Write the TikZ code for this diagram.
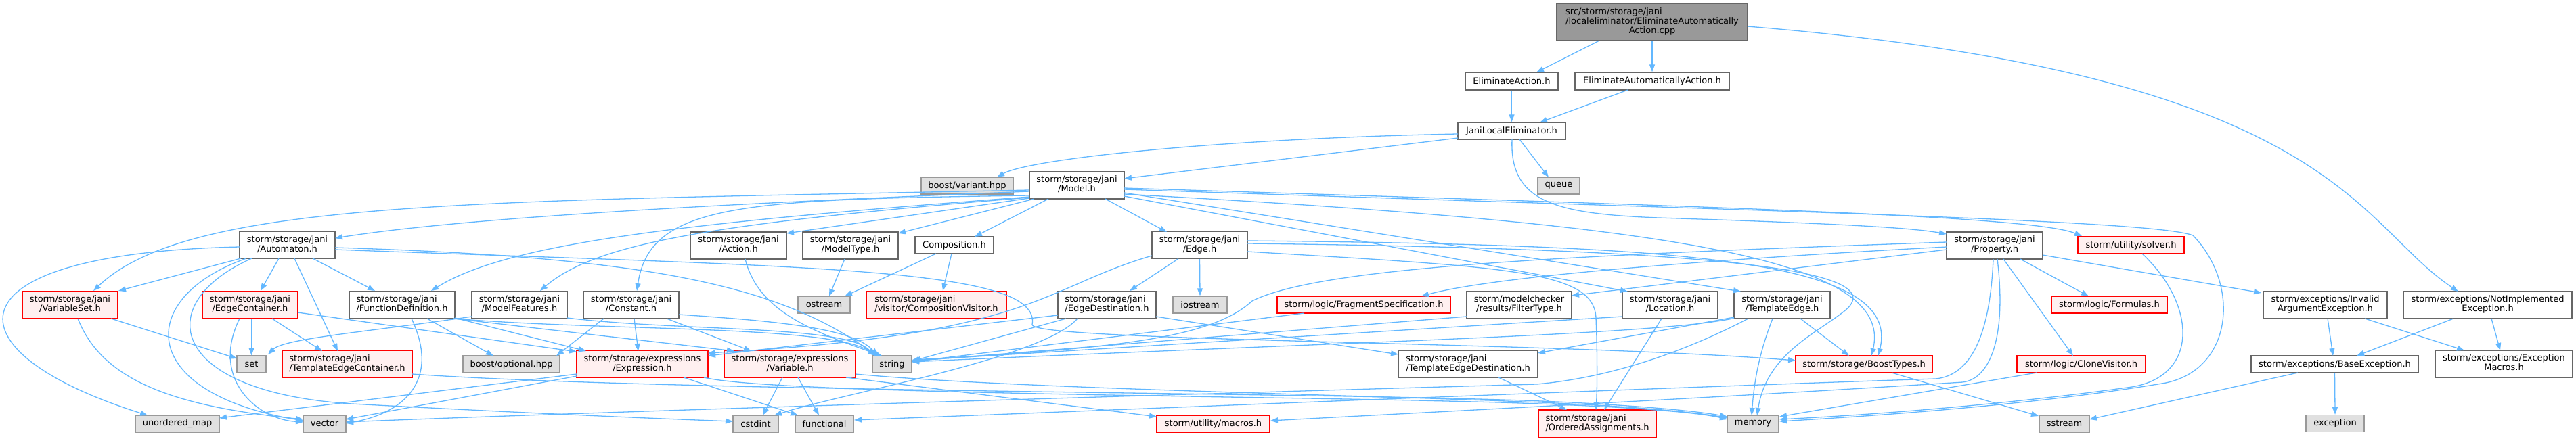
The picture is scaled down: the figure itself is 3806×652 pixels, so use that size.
\documentclass[tikz,border=0pt]{standalone}
\usepackage{fontspec}
\newfontfamily\dvs{DejaVu Sans}
\usetikzlibrary{arrows.meta,calc}
\definecolor{edgec}{HTML}{63B8FF}
\definecolor{bordc}{HTML}{666666}
\definecolor{grayf}{HTML}{E0E0E0}
\definecolor{grayb}{HTML}{999999}
\definecolor{redf}{HTML}{FFF0F0}
\definecolor{rootf}{HTML}{999999}
\newcommand\twol[2]{\begin{tabular}{@{}l@{}}#1\\\multicolumn{1}{@{}c@{}}{#2}\end{tabular}}
\newcommand\bx[7]{\node[#6, minimum width=#4pt, minimum height=#5pt] (#1) at (#2,#3) {#7};}
\begin{document}
\begin{tikzpicture}[x=1pt,y=-1pt,
  nd/.style={draw=bordc, fill=white, line width=1.3pt, inner sep=0pt, font={\dvs\fontsize{13}{14}\selectfont}},
  rd/.style={nd, draw=red, fill=redf},
  gd/.style={nd, draw=grayb, fill=grayf},
  rt/.style={nd, fill=rootf},
  lk/.style={draw=edgec, line width=1.3pt, line join=round, -{Triangle[length=11pt,width=8pt]}}]
\useasboundingbox (0,0) rectangle (3806,652);
\fill[white] (0,0) rectangle (3806,652);
% nodes
\bx{root}{2441}{32.5}{282}{55}{rt}{\begin{tabular}{@{}l@{}}src/storm/storage/jani\\/localeliminator/EliminateAutomatically\\\multicolumn{1}{@{}c@{}}{Action.cpp}\end{tabular}}
\bx{ea}{2233.5}{120}{137}{26}{nd}{EliminateAction.h}
\bx{eaa}{2441}{120}{228}{26}{nd}{EliminateAutomaticallyAction.h}
\bx{jle}{2233.5}{193.5}{159}{25}{nd}{JaniLocalEliminator.h}
\bx{var}{1429}{274.5}{136}{25}{gd}{boost/variant.hpp}
\bx{model}{1591}{274}{140}{40}{nd}{\twol{storm/storage/jani}{/Model.h}}
\bx{queue}{2303}{274.5}{62}{25}{gd}{queue}
\bx{prop}{2947}{363}{142}{40}{nd}{\twol{storm/storage/jani}{/Property.h}}
\bx{solver}{3148.5}{362.5}{157}{25}{rd}{storm/utility/solver.h}
\bx{nie}{3675.5}{451}{249}{40}{nd}{\twol{storm/exceptions/NotImplemented}{Exception.h}}
\bx{aut}{424.5}{362.5}{141}{40}{nd}{\twol{storm/storage/jani}{/Automaton.h}}
\bx{act}{1091}{363}{142}{40}{nd}{\twol{storm/storage/jani}{/Action.h}}
\bx{mt}{1256.5}{363}{141}{40}{nd}{\twol{storm/storage/jani}{/ModelType.h}}
\bx{comp}{1410}{362.5}{116}{25}{nd}{Composition.h}
\bx{edge}{1772.5}{362.5}{141}{40}{nd}{\twol{storm/storage/jani}{/Edge.h}}
\bx{vs}{103.5}{450.5}{141}{40}{rd}{\twol{storm/storage/jani}{/VariableSet.h}}
\bx{ec}{369.5}{450.5}{141}{40}{rd}{\twol{storm/storage/jani}{/EdgeContainer.h}}
\bx{fd}{594}{450.5}{156}{40}{nd}{\twol{storm/storage/jani}{/FunctionDefinition.h}}
\bx{mf}{767.5}{450.5}{141}{40}{nd}{\twol{storm/storage/jani}{/ModelFeatures.h}}
\bx{const}{932.5}{450.5}{141}{40}{nd}{\twol{storm/storage/jani}{/Constant.h}}
\bx{ostr}{1217.5}{450.5}{77}{25}{gd}{ostream}
\bx{cv}{1383.5}{450.5}{207}{40}{rd}{\twol{storm/storage/jani}{/visitor/CompositionVisitor.h}}
\bx{ed}{1635.5}{450.5}{145}{40}{nd}{\twol{storm/storage/jani}{/EdgeDestination.h}}
\bx{ios}{1773}{450.5}{80}{25}{gd}{iostream}
\bx{frag}{2015}{450.5}{256}{25}{rd}{storm/logic/FragmentSpecification.h}
\bx{ft}{2244.5}{450.5}{155}{40}{nd}{\twol{storm/modelchecker}{/results/FilterType.h}}
\bx{loc}{2467.5}{451}{141}{40}{nd}{\twol{storm/storage/jani}{/Location.h}}
\bx{te}{2633}{451}{142}{40}{nd}{\twol{storm/storage/jani}{/TemplateEdge.h}}
\bx{form}{3116.5}{450.5}{171}{25}{rd}{storm/logic/Formulas.h}
\bx{ia}{3435.5}{451}{183}{40}{nd}{\twol{storm/exceptions/Invalid}{ArgumentException.h}}
\bx{set}{371.5}{538.5}{43}{25}{gd}{set}
\bx{tec}{513}{538.5}{192}{40}{rd}{\twol{storm/storage/jani}{/TemplateEdgeContainer.h}}
\bx{opt}{755.5}{538.5}{143}{25}{gd}{boost/optional.hpp}
\bx{expr}{949}{538.5}{194}{40}{rd}{\twol{storm/storage/expressions}{/Expression.h}}
\bx{varb}{1167}{538.5}{194}{40}{rd}{\twol{storm/storage/expressions}{/Variable.h}}
\bx{str}{1318}{538.5}{58}{25}{gd}{string}
\bx{ted}{2169}{538.5}{206}{40}{nd}{\twol{storm/storage/jani}{/TemplateEdgeDestination.h}}
\bx{bt}{2754}{538.5}{202}{25}{rd}{storm/storage/BoostTypes.h}
\bx{clone}{3075}{538.5}{190}{25}{rd}{storm/logic/CloneVisitor.h}
\bx{base}{3449.5}{538.5}{247}{25}{nd}{storm/exceptions/BaseException.h}
\bx{em}{3699.5}{538}{203}{40}{nd}{\twol{storm/exceptions/Exception}{Macros.h}}
\bx{umap}{262}{626.5}{124}{25}{gd}{unordered\_map}
\bx{vec}{479.5}{626.5}{63}{25}{gd}{vector}
\bx{cstd}{1116.5}{626.5}{67}{25}{gd}{cstdint}
\bx{func}{1218}{626.5}{86}{25}{gd}{functional}
\bx{mac}{1792.5}{626.5}{167}{25}{rd}{storm/utility/macros.h}
\bx{oa}{2360}{626.5}{174}{41}{rd}{\twol{storm/storage/jani}{/OrderedAssignments.h}}
\bx{mem}{2590}{626.5}{76}{25}{gd}{memory}
\bx{sst}{3050}{626.5}{74}{25}{gd}{sstream}
\bx{exc}{3450}{626}{86}{25}{gd}{exception}
% top edges
\draw[lk] ($(root)+(-78,27.5)$) -- ($(ea)+(36.5,-13)$);
\draw[lk] (root.south) -- (eaa.north);
\draw[lk] ($(root)+(141,6.5)$) .. controls (3450,110) and (3480,330) .. ($(nie)+(-43.5,-20)$);
\draw[lk] (ea.south) -- (jle.north);
\draw[lk] ($(eaa)+(-36,13)$) -- ($(jle)+(41.5,-12.5)$);
\draw[lk] ($(jle)+(-79.5,4.5)$) .. controls (1800,205) and (1520,235) .. ($(var)+(44,-12.5)$);
\draw[lk] ($(jle)+(-79.5,10.5)$) -- ($(model)+(70,-10)$);
\draw[lk] ($(jle)+(11.5,12.5)$) -- ($(queue)+(-15,-12.5)$);
\draw[lk] ($(jle)+(0.5,12.5)$) .. controls (2230,300) and (2300,316) .. (2450,322) .. controls (2700,330) and (2820,336) .. ($(prop)+(-71,-17)$);
% Model
\draw[lk] ($(model)+(-70,9)$) .. controls (1100,300) and (700,320) .. ($(aut)+(70.5,-10.5)$);
\draw[lk] ($(model)+(-70,7)$) .. controls (700,298) and (280,295) .. ($(vs)+(34.5,-20.5)$);
\draw[lk] ($(model)+(-70,17)$) .. controls (1000,330) and (750,360) .. ($(fd)+(43,-20.5)$);
\draw[lk] ($(model)+(-70,18)$) .. controls (1050,330) and (880,360) .. ($(mf)+(30.5,-20.5)$);
\draw[lk] ($(model)+(-70,15)$) .. controls (1100,295) and (960,300) .. ($(const)+(8.5,-20.5)$);
\draw[lk] ($(model)+(-70,19)$) -- ($(act)+(71,-18)$);
\draw[lk] ($(model)+(-63,20)$) -- ($(mt)+(70.5,-18)$);
\draw[lk] ($(model)+(-42,20)$) -- ($(comp)+(30,-12.5)$);
\draw[lk] ($(model)+(42,20)$) -- ($(edge)+(-48.5,-19.5)$);
\draw[lk] ($(model)+(70,16)$) -- ($(loc)+(-62.5,-20)$);
\draw[lk] ($(model)+(70,11)$) -- ($(te)+(-61,-20)$);
\draw[lk] ($(model)+(70,4)$) .. controls (2500,305) and (3000,318) .. ($(solver)+(-72.5,-13.5)$);
\draw[lk] ($(model)+(70,6)$) .. controls (2600,312) and (3180,325) .. (3240,348) .. controls (3310,420) and (3300,545) .. (3200,566) .. controls (3000,600) and (2750,616) .. ($(mem)+(39,-3.5)$);
\draw[lk] ($(model)+(70,13)$) .. controls (2450,330) and (2800,380) .. ($(bt)+(11,-12.5)$);
% Edge
\draw[lk] ($(edge)+(-31.5,20)$) -- ($(ed)+(33.5,-20.5)$);
\draw[lk] (edge.south) -- (ios.north);
\draw[lk] ($(edge)+(70.5,9.5)$) .. controls (2230,395) and (2355,400) .. (2358,470) .. controls (2360,520) and (2360,570) .. ($(oa)+(-2,-20.5)$);
\draw[lk] ($(edge)+(70.5,-6.5)$) .. controls (2500,362) and (2810,385) .. ($(bt)+(21,-12.5)$);
\draw[lk] ($(edge)+(70.5,-2.5)$) .. controls (2550,368) and (2800,400) .. (2725,460) .. controls (2680,495) and (2610,525) .. ($(mem)+(6,-12.5)$);
\draw[lk] ($(edge)+(-70.5,15.5)$) .. controls (1540,425) and (1530,495) .. ($(expr)+(97,-16.5)$);
% EdgeDestination
\draw[lk] ($(ed)+(72.5,17.5)$) -- ($(ted)+(-103,-14.5)$);
\draw[lk] ($(ed)+(-72.5,15.5)$) -- ($(expr)+(97,-12.5)$);
\draw[lk] ($(ed)+(-43.5,20.5)$) .. controls (1540,530) and (1250,580) .. ($(cstd)+(27.5,-12.5)$);
\draw[lk] ($(ed)+(-60.5,20.5)$) -- ($(str)+(29,-4.5)$);
% Automaton
\draw[lk] ($(aut)+(-68.5,19.5)$) -- ($(vs)+(71.5,-20.5)$);
\draw[lk] ($(aut)+(-12.5,19.5)$) -- ($(ec)+(15.5,-20.5)$);
\draw[lk] ($(aut)+(10.5,19.5)$) -- ($(tec)+(-14,-19.5)$);
\draw[lk] ($(aut)+(37.5,19.5)$) -- ($(fd)+(-40,-20.5)$);
\draw[lk] ($(aut)+(-70.5,2.5)$) .. controls (-90,375) and (-80,520) .. ($(umap)+(-44,-12.5)$);
\draw[lk] ($(aut)+(-60.5,19.5)$) .. controls (200,440) and (200,580) .. ($(vec)+(-31.5,-4.5)$);
\draw[lk] ($(aut)+(-52.5,19.5)$) .. controls (220,450) and (250,580) .. (520,597) .. controls (800,612) and (1000,620) .. ($(cstd)+(-33.5,-3.5)$);
\draw[lk] ($(aut)+(70.5,3.5)$) .. controls (950,380) and (1150,420) .. ($(str)+(-23,-12.5)$);
\draw[lk] ($(aut)+(70.5,6.5)$) .. controls (1200,395) and (1540,395) .. (1525,480) .. controls (1525,505) and (2300,505) .. ($(bt)+(-101,-5.5)$);
% VariableSet
\draw[lk] ($(vs)+(60.5,20.5)$) -- ($(set)+(-21.5,-8.5)$);
\draw[lk] ($(vs)+(11.5,20.5)$) .. controls (150,560) and (250,600) .. ($(vec)+(-31.5,-6.5)$);
% EdgeContainer
\draw[lk] ($(ec)+(2,20.5)$) -- (set.north);
\draw[lk] ($(ec)+(32.5,20.5)$) -- ($(tec)+(-37,-19.5)$);
\draw[lk] ($(ec)+(-15.5,20.5)$) .. controls (310,560) and (380,620) .. ($(vec)+(-31.5,-2.5)$);
\draw[lk] ($(ec)+(70.5,11.5)$) -- ($(expr)+(-97,-18.5)$);
% FunctionDefinition
\draw[lk] ($(fd)+(37,20.5)$) -- ($(opt)+(-26.5,-12.5)$);
\draw[lk] ($(fd)+(14,20.5)$) .. controls (650,560) and (600,610) .. ($(vec)+(31.5,-0.5)$);
\draw[lk] ($(fd)+(78,19.5)$) -- ($(expr)+(-83,-19.5)$);
\draw[lk] ($(fd)+(76,20.5)$) -- ($(varb)+(-82,-19.5)$);
\draw[lk] ($(fd)+(76,20.5)$) .. controls (900,490) and (1230,480) .. ($(str)+(-24,-12.5)$);
% ModelFeatures
\draw[lk] ($(mf)+(-70.5,17.5)$) .. controls (550,490) and (420,500) .. ($(set)+(24.5,-14.5)$);
\draw[lk] ($(mf)+(70.5,19.5)$) .. controls (1000,490) and (1250,480) .. ($(str)+(-26,-12.5)$);
% Constant
\draw[lk] ($(const)+(-40.5,20.5)$) -- ($(opt)+(66.5,-12.5)$);
\draw[lk] ($(const)+(4.5,20.5)$) -- ($(expr)+(-6,-19.5)$);
\draw[lk] ($(const)+(52.5,20.5)$) -- ($(varb)+(-57,-19.5)$);
\draw[lk] ($(const)+(70.5,14.5)$) .. controls (1150,475) and (1260,485) .. ($(str)+(-21,-12.5)$);
% Action, ModelType, Composition
\draw[lk] ($(act)+(10,20)$) .. controls (1120,460) and (1200,490) .. ($(str)+(-15,-12.5)$);
\draw[lk] ($(mt)+(-8.5,20)$) -- ($(ostr)+(7.5,-12.5)$);
\draw[lk] ($(comp)+(-27,12.5)$) -- ($(ostr)+(30.5,-12.5)$);
\draw[lk] ($(comp)+(-4,12.5)$) -- ($(cv)+(9.5,-20.5)$);
% Property
\draw[lk] ($(prop)+(-71,2)$) .. controls (2500,385) and (2200,410) .. ($(frag)+(85,-12.5)$);
\draw[lk] ($(prop)+(-71,6)$) -- ($(ft)+(77.5,-13.5)$);
\draw[lk] ($(prop)+(38,20)$) -- ($(form)+(-30.5,-12.5)$);
\draw[lk] ($(prop)+(13,20)$) -- ($(clone)+(-12,-12.5)$);
\draw[lk] ($(prop)+(71,14)$) -- ($(ia)+(-94.5,-18)$);
\draw[lk] ($(prop)+(-2,20)$) .. controls (2940,500) and (2910,555) .. (2860,560) .. controls (2400,575) and (1600,608) .. ($(func)+(44,-5.5)$);
\draw[lk] ($(prop)+(4,20)$) .. controls (2965,500) and (2940,560) .. (2900,565) .. controls (2500,590) and (2100,610) .. ($(mac)+(84.5,-4.5)$);
\draw[lk] ($(prop)+(-71,-5)$) .. controls (2300,378) and (1950,395) .. (1850,445) .. controls (1790,500) and (1650,515) .. ($(str)+(30,-6.5)$);
% FilterType, FragmentSpecification
\draw[lk] ($(ft)+(-77.5,17.5)$) -- ($(str)+(29,-4.5)$);
\draw[lk] ($(frag)+(-88,12.5)$) -- ($(str)+(29,-3.5)$);
% Location
\draw[lk] ($(loc)+(-12.5,20)$) -- ($(oa)+(10,-20.5)$);
\draw[lk] ($(loc)+(-70.5,17)$) -- ($(str)+(29,-5.5)$);
% TemplateEdge
\draw[lk] ($(te)+(-71,18)$) -- ($(ted)+(103,-16.5)$);
\draw[lk] ($(te)+(27,20)$) -- ($(bt)+(-22,-12.5)$);
\draw[lk] ($(te)+(-14,20)$) .. controls (2600,520) and (2592,560) .. ($(mem)+(-2,-12.5)$);
\draw[lk] ($(te)+(-71,19.5)$) .. controls (2450,495) and (2000,505) .. ($(str)+(29,-3.5)$);
\draw[lk] ($(te)+(-50,20)$) .. controls (2450,540) and (2340,562) .. (2270,568) .. controls (1500,590) and (800,612) .. ($(vec)+(31.5,-2.5)$);
% TemplateEdgeDestination
\draw[lk] ($(ted)+(45,19.5)$) -- ($(oa)+(-45,-20.5)$);
% Expression
\draw[lk] ($(expr)+(61,19.5)$) -- ($(func)+(-39,-12.5)$);
\draw[lk] ($(expr)+(-97,17.5)$) -- ($(vec)+(31.5,-6.5)$);
\draw[lk] ($(expr)+(-97,14.5)$) -- ($(umap)+(62,-8.5)$);
\draw[lk] ($(expr)+(91,19.5)$) .. controls (1150,585) and (2000,585) .. (2300,598) .. controls (2450,604) and (2520,612) .. ($(mem)+(-38,-6.5)$);
% Variable
\draw[lk] ($(varb)+(-11,19.5)$) -- ($(cstd)+(10.5,-12.5)$);
\draw[lk] ($(varb)+(12,19.5)$) -- ($(func)+(-8,-12.5)$);
\draw[lk] ($(varb)+(83,19.5)$) -- ($(mac)+(-83.5,-10.5)$);
\draw[lk] ($(varb)+(97,14.5)$) .. controls (1500,575) and (2000,583) .. (2300,596) .. controls (2450,603) and (2520,612) .. ($(mem)+(-38,-8.5)$);
% TemplateEdgeContainer
\draw[lk] ($(tec)+(96,14.5)$) .. controls (1000,580) and (2000,580) .. (2300,594) .. controls (2450,601) and (2520,610) .. ($(mem)+(-38,-10.5)$);
% CloneVisitor, solver, BoostTypes
\draw[lk] ($(clone)+(-66,12.5)$) -- ($(mem)+(39,-10.5)$);
\draw[lk] ($(solver)+(16.5,12.5)$) .. controls (3245,450) and (3250,555) .. (3150,572) .. controls (2950,600) and (2750,614) .. ($(mem)+(39,-6.5)$);
\draw[lk] ($(bt)+(41,12.5)$) -- ($(sst)+(-38,-11.5)$);
% exceptions
\draw[lk] ($(ia)+(3.5,20)$) -- ($(base)+(-2.5,-12.5)$);
\draw[lk] ($(ia)+(58.5,20)$) -- ($(em)+(-58.5,-20)$);
\draw[lk] ($(nie)+(-50.5,20)$) -- ($(base)+(32.5,-12.5)$);
\draw[lk] ($(nie)+(5.5,20)$) -- ($(em)+(-5.5,-20)$);
\draw[lk] (base.south) -- (exc.north);
\draw[lk] ($(base)+(-54.5,12.5)$) -- ($(sst)+(37,-6.5)$);
\end{tikzpicture}
\end{document}
